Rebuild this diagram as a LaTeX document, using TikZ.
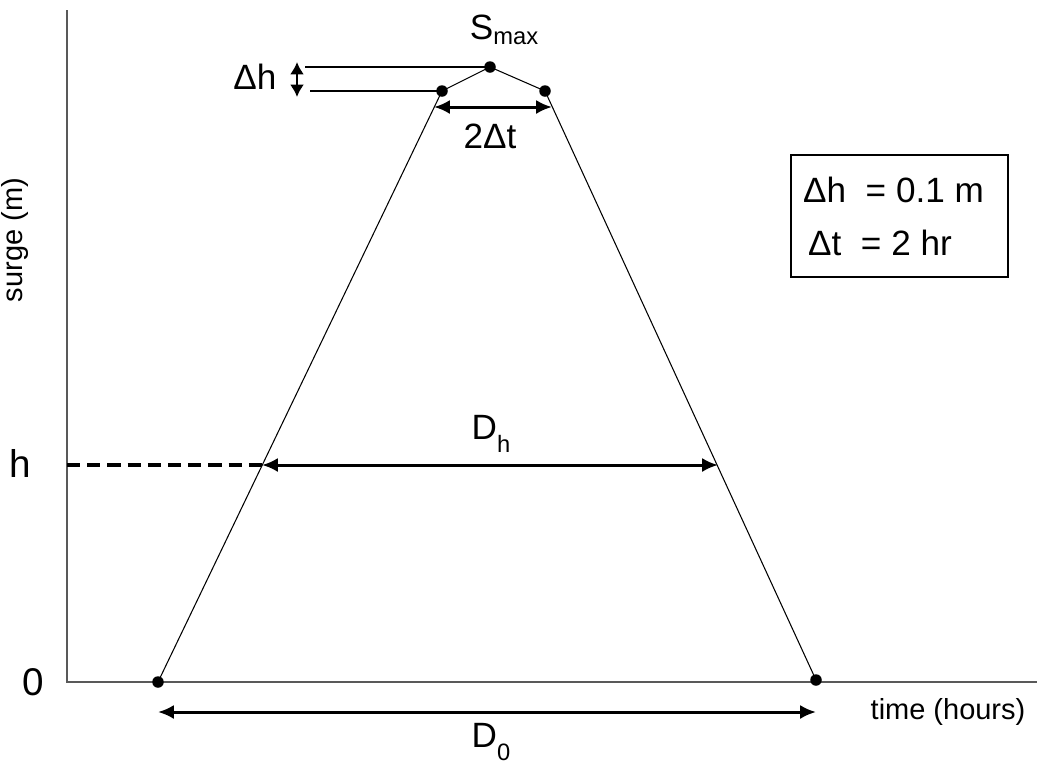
\documentclass[tikz,border=0pt]{standalone}
\usepackage{fontspec}
\setmainfont{Liberation Sans}
\usetikzlibrary{arrows.meta}
\newcommand{\lowsub}[2]{\raisebox{-#1}{\fontsize{13.5}{16}\selectfont #2}}

\begin{document}
\begin{tikzpicture}[x=0.02cm, y=-0.02cm,
    axis/.style={line width=1.1pt, black!65},
    edge/.style={line width=0.6pt},
    dim/.style={{Latex[length=9pt,width=8pt]}-{Latex[length=9pt,width=8pt]}, line width=1.7pt},
    dot/.style={circle, fill, inner sep=0pt, minimum size=0.23cm},
    big/.style={font=\fontsize{20}{24}\selectfont},
    small/.style={font=\fontsize{16.5}{20}\selectfont}
]
\useasboundingbox (0,0) rectangle (1037,772);

\coordinate (top) at (67,10);
\coordinate (orig) at (67,682);
\coordinate (xend) at (1037,682);
\draw[axis] (top) -- (orig) -- (xend);

\node[small, rotate=90] (ylab) at (15,240) {surge (m)};
\node[small] (xlab) at (948,712) {time (hours)};
\node[big, font=\fontsize{22}{26}\selectfont] (zero) at (33,682) {0};
\node[big, font=\fontsize{22}{26}\selectfont] (hlab) at (20,463) {h};

\node[dot] (b0) at (158,682) {};
\node[dot] (t1) at (442,91) {};
\node[dot] (pk) at (490,67) {};
\node[dot] (t2) at (545,91) {};
\node[dot] (b1) at (816,680) {};
\draw[edge] (b0.center) -- (t1.center) -- (pk.center) -- (t2.center) -- (b1.center);

\coordinate (hA) at (67,465);
\coordinate (hL) at (262,465);
\coordinate (hR) at (718,465);
\draw[line width=2pt, dash pattern=on 7.5pt off 4pt] (hA) -- (hL);
\draw[dim] (hL) -- (hR);
\node[big] (dh) at (491,434) {D\lowsub{7pt}{h}};

\coordinate (dL) at (434,107);
\coordinate (dR) at (552,107);
\draw[dim] (dL) -- (dR);
\node[big] (twodt) at (490,136) {2Δt};

\coordinate (sA) at (305,67);
\coordinate (sB) at (310,91);
\draw[edge] (sA) -- (pk.center);
\draw[edge] (sB) -- (t1.center);
\coordinate (vA) at (297,62);
\coordinate (vB) at (297,97);
\draw[{Latex[length=7pt,width=8pt]}-{Latex[length=7pt,width=8pt]}, line width=1.5pt] (vA) -- (vB);
\node[big] (dhlab) at (255,77) {Δh};
\node[big] (smax) at (504,30) {S\lowsub{3pt}{max}};

\coordinate (zL) at (158,712);
\coordinate (zR) at (816,712);
\draw[dim] (zL) -- (zR);
\node[big] (dzero) at (491,742) {D\lowsub{7pt}{0}};

\node[draw, line width=0.7pt, minimum width=217*0.02cm, minimum height=122*0.02cm] (legend) at (899.5,216) {};
\node[big, anchor=west] (leg1) at (797,190) {Δh\ \ = 0.1 m};
\node[big, anchor=west] (leg2) at (802,243) {Δt\ \ = 2 hr};
\end{tikzpicture}
\end{document}
